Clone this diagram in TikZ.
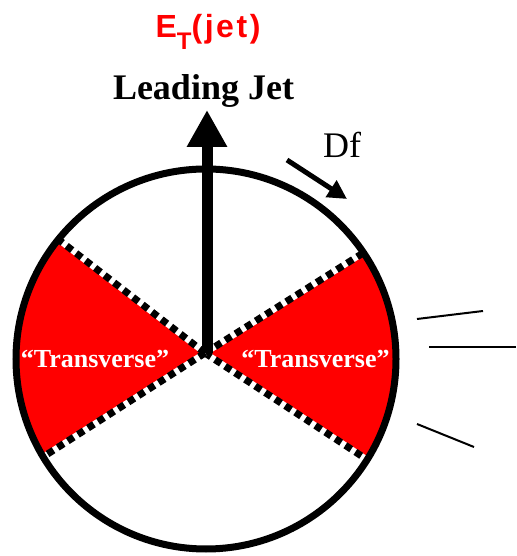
\documentclass[tikz,border=0pt]{standalone}
\usepackage{fontspec}
\setmainfont{Liberation Serif}
\newfontfamily\sansf{Liberation Sans}
\usetikzlibrary{arrows.meta}
\begin{document}
\begin{tikzpicture}[x=1pt,y=1pt,
  edgewhite/.style={line width=6pt, draw=white},
  edgedash/.style={line width=7pt, draw=black, dash pattern=on 7pt off 5pt},
  rim/.style={line width=7pt},
  tickline/.style={line width=2pt},
  jetarrow/.style={line width=11pt, -{Triangle[width=38pt,length=37pt]}},
  dfarrow/.style={line width=5pt, -{Triangle[width=19pt,length=19pt]}},
  lbl/.style={font=\bfseries\fontsize{26}{30}\selectfont, text=white, inner sep=0pt, anchor=base}]
\useasboundingbox (0,0) rectangle (516,556);
\coordinate (C) at (206,197);
\coordinate (O) at (205,203);
\coordinate (R1) at ([shift={(C)}]-32:190);
\coordinate (R2) at ([shift={(C)}]34:190);
\coordinate (L1) at ([shift={(C)}]141:190);
\coordinate (L2) at ([shift={(C)}]211:190);
% red sectors
\fill[red] (O) -- (R1) arc[start angle=-32, end angle=34, radius=190] -- cycle;
\fill[red] (O) -- (L1) arc[start angle=141, end angle=211, radius=190] -- cycle;
% dashed edges
\foreach \p in {R1,R2,L1,L2} {
  \draw[edgewhite] (O) -- (\p);
  \draw[edgedash] (O) -- (\p);
}
% rim
\draw[rim] (C) circle[radius=190];
% leading jet arrow
\coordinate (jb) at (207,203);
\coordinate (jt) at (207,446);
\draw[jetarrow] (jb) -- (jt);
% delta phi arrow
\coordinate (d1) at (287,396);
\coordinate (d2) at (347,357);
\draw[dfarrow] (d1) -- (d2);
% side ticks
\coordinate (t1a) at (417,237); \coordinate (t1b) at (483,245);
\coordinate (t2a) at (429,209); \coordinate (t2b) at (516,209);
\coordinate (t3a) at (417,132); \coordinate (t3b) at (474,109);
\draw[tickline] (t1a) -- (t1b);
\draw[tickline] (t2a) -- (t2b);
\draw[tickline] (t3a) -- (t3b);
% texts
\node[anchor=base, inner sep=0pt, text=red, font=\sansf\bfseries\fontsize{32}{36}\selectfont\addfontfeatures{LetterSpace=8}] (et) at (208,518) {E\raisebox{-12pt}{\fontsize{24}{24}\selectfont T}(jet)};
\node[anchor=base, inner sep=0pt, font=\bfseries\fontsize{36}{40}\selectfont] (lj) at (203.5,456) {Leading Jet};
\node[anchor=base, inner sep=0pt, font=\fontsize{36}{40}\selectfont] (df) at (342,398) {Df};
\node[lbl] (tl) at (95,188) {“Transverse”};
\node[lbl] (tr) at (315.5,188) {“Transverse”};
\end{tikzpicture}
\end{document}
